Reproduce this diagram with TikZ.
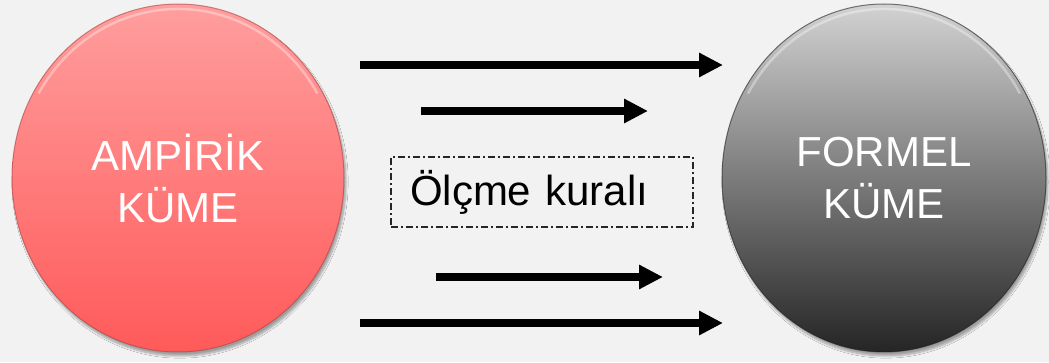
\documentclass[tikz,border=0pt]{standalone}
\usepackage{fontspec}
\setmainfont{Liberation Sans}
\usetikzlibrary{shapes.geometric,arrows.meta,shadows.blur}
\definecolor{bg}{HTML}{F2F2F2}
\definecolor{redtop}{HTML}{FF9E9E}
\definecolor{redbot}{HTML}{FF5A5A}
\definecolor{redrim}{HTML}{B04040}
\definecolor{greytop}{HTML}{D2D2D2}
\definecolor{greybot}{HTML}{252525}
\definecolor{greyrim}{HTML}{202020}
\tikzset{
  setnode/.style={ellipse, inner sep=0pt, text=white, align=center,
    font=\fontsize{42}{52}\selectfont, line width=1pt,
    blur shadow={shadow xshift=2pt, shadow yshift=-4pt, shadow blur steps=8, shadow opacity=35}},
  bigarrow/.style={line width=8pt, draw=black, -{Triangle[length=24pt,width=23pt]}},
  rulebox/.style={draw=black!85, line width=1.3pt,
    dash pattern=on 7pt off 3pt on 2pt off 3pt,
    minimum width=302pt, minimum height=70pt, inner ysep=0pt, inner xsep=19pt,
    text width=264pt, align=left,
    font=\fontsize{42}{50}\selectfont},
  bevel/.style={white, line width=2.5pt, opacity=0.35}
}
\begin{document}
\begin{tikzpicture}[x=1pt,y=1pt]
\fill[bg] (0,0) rectangle (1049,362);
\useasboundingbox (0,0) rectangle (1049,362);
% sets
\node[setnode, minimum width=332pt, minimum height=348pt,
      top color=redtop, bottom color=redbot, draw=redrim, draw opacity=0.6]
      (emp) at (178,184) {AMPİRİK\\KÜME};
\node[setnode, minimum width=324pt, minimum height=348pt,
      top color=greytop, bottom color=greybot, draw=greyrim, draw opacity=0.6]
      (form) at (884,184) {FORMEL\\KÜME};
% bevel highlights
\draw[bevel] (emp.center) ++(150:161 and 169) arc[start angle=150, end angle=30, x radius=161, y radius=169];
\draw[bevel] (form.center) ++(150:157 and 169) arc[start angle=150, end angle=30, x radius=157, y radius=169];
% arrows
\coordinate (a1s) at (360,297);
\coordinate (a1e) at (723,297);
\coordinate (a2s) at (421,251);
\coordinate (a2e) at (648,251);
\coordinate (a3s) at (436,85);
\coordinate (a3e) at (663,85);
\coordinate (a4s) at (360,39);
\coordinate (a4e) at (723,39);
\draw[bigarrow] (a1s) -- (a1e);
\draw[bigarrow] (a2s) -- (a2e);
\draw[bigarrow] (a3s) -- (a3e);
\draw[bigarrow] (a4s) -- (a4e);
% rule
\node[rulebox] (rule) at (542,170) {Ölçme kuralı};
\end{tikzpicture}
\end{document}
